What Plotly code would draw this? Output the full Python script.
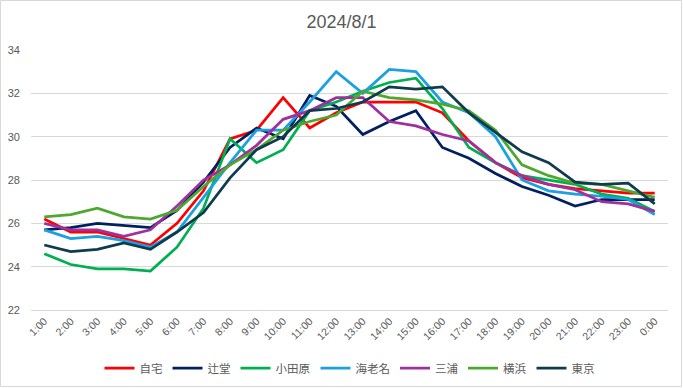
import plotly.graph_objects as go

hours = ["1:00", "2:00", "3:00", "4:00", "5:00", "6:00", "7:00", "8:00", "9:00", "10:00",
         "11:00", "12:00", "13:00", "14:00", "15:00", "16:00", "17:00", "18:00", "19:00",
         "20:00", "21:00", "22:00", "23:00", "0:00"]

jitaku = [26.2, 25.6, 25.6, 25.3, 25.0, 26.0, 27.5, 29.9, 30.3, 31.8, 30.4, 31.1,
          31.6, 31.6, 31.6, 31.1, 29.8, 28.8, 28.1, 27.8, 27.6, 27.5, 27.4, 27.4]
tsujido = [25.7, 25.8, 26.0, 25.9, 25.8, 26.6, 27.9, 29.5, 30.4, 29.9, 31.9, 31.4,
           30.1, 30.7, 31.2, 29.5, 29.0, 28.3, 27.7, 27.3, 26.8, 27.1, 27.1, 27.1]
odawara = [24.6, 24.1, 23.9, 23.9, 23.8, 24.9, 26.7, 29.9, 28.8, 29.4, 31.2, 31.6,
           32.1, 32.5, 32.7, 31.3, 29.5, 28.8, 28.2, 28.0, 27.8, 27.35, 27.15, 26.55]
ebina = [25.7, 25.3, 25.4, 25.2, 24.9, 25.6, 27.2, 28.8, 30.3, 30.3, 31.6, 33.0,
         32.0, 33.1, 33.0, 31.6, 31.1, 30.0, 28.0, 27.5, 27.35, 27.25, 27.1, 26.4]
miura = [26.0, 25.7, 25.7, 25.4, 25.7, 26.8, 28.0, 28.7, 29.6, 30.8, 31.2, 31.8,
         31.8, 30.7, 30.5, 30.1, 29.8, 28.8, 28.2, 27.8, 27.55, 27.0, 26.9, 26.55]
yokohama = [26.3, 26.4, 26.7, 26.3, 26.2, 26.6, 27.7, 28.7, 29.4, 30.3, 30.7, 31.0,
            32.1, 31.8, 31.7, 31.5, 31.2, 30.3, 28.7, 28.2, 27.85, 27.8, 27.5, 27.2]
tokyo = [25.0, 24.7, 24.8, 25.1, 24.8, 25.6, 26.5, 28.1, 29.4, 30.0, 31.2, 31.3,
         31.6, 32.3, 32.2, 32.3, 31.1, 30.2, 29.3, 28.8, 27.9, 27.8, 27.85, 26.9]

series_names = ["自宅", "辻堂", "小田原", "海老名", "三浦", "横浜", "東京"]
series_values = [jitaku, tsujido, odawara, ebina, miura, yokohama, tokyo]
series_colors = ["#FF0000", "#002060", "#00B050", "#1BA1E2", "#A0309E", "#4EA72E", "#0F3B4E"]

FONT = "Liberation Sans, Arial, Noto Sans CJK JP, sans-serif"
W, H = 683, 388
L, R, T, B = 31, 15, 50, 78

fig = go.Figure()
for name, vals, col in zip(series_names, series_values, series_colors):
    fig.add_trace(go.Scatter(x=hours, y=vals, name=name, mode="lines",
                             line=dict(color=col, width=2.75)))

pw = W - L - R
ph = H - T - B
fig.update_layout(
    width=W, height=H,
    margin=dict(l=L, r=R, t=T, b=B, autoexpand=False),
    paper_bgcolor="white", plot_bgcolor="white",
    font=dict(family=FONT, color="#595959", size=10),
    title=dict(text="2024/8/1", x=0.5, xanchor="center", y=1 - 22 / H, yanchor="middle",
               font=dict(size=18, color="#595959", family=FONT)),
    xaxis=dict(type="category", range=[-0.5, 23.5], tickangle=-45, showgrid=False,
               showline=True, linecolor="#D9D9D9", linewidth=1, ticks="", automargin=False,
               tickfont=dict(size=10.5, color="#595959")),
    yaxis=dict(range=[22, 34], dtick=2, showgrid=True, gridcolor="#D9D9D9", gridwidth=1,
               zeroline=False, showline=False, ticks="", ticklabelstandoff=10, automargin=False,
               tickfont=dict(size=11, color="#595959")),
    legend=dict(orientation="h", x=0.5, xanchor="center", y=-(368 - (T + ph)) / ph,
                yanchor="middle", font=dict(size=11.5, color="#595959"),
                itemwidth=30, tracegroupgap=0, traceorder="normal"),
    showlegend=True,
)

# outer chart border
fig.add_shape(type="rect", xref="paper", yref="paper",
              x0=(0.5 - L) / pw, x1=(W - 1.5 - L) / pw,
              y0=-(B - 1.5) / ph, y1=(T - 0.5) / ph + 1,
              line=dict(color="#D9D9D9", width=1), fillcolor="rgba(0,0,0,0)", layer="below")

fig.write_html("out.html", config={"displayModeBar": False},
               post_script="document.body.style.margin='0';")
